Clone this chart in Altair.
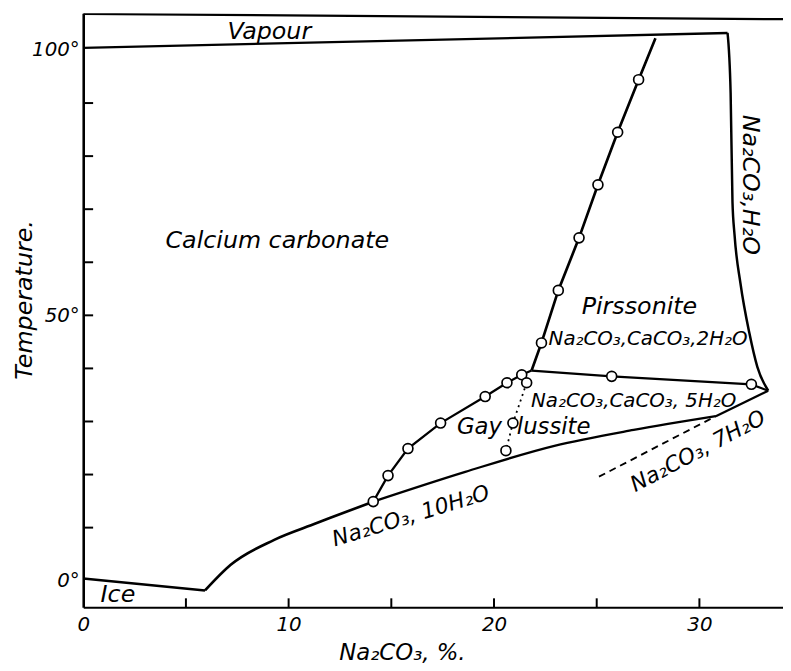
import altair as alt
import pandas as pd

# ---- boundary curves (x: Na2CO3 %, y: temperature in degrees C) ----
vapour_top_x = [0.0, 34.07]
vapour_top_y = [106.8, 105.8]
vapour_x = [0.0, 31.37]
vapour_y = [100.4, 103.2]
h2o_x = [31.37, 31.52, 31.61, 31.71, 32.0, 32.43, 32.82, 33.35]
h2o_y = [103.2, 91.9, 71.4, 65.2, 56.0, 46.7, 40.3, 35.8]
pirss_x = [27.86, 27.04, 26.02, 25.06, 24.14, 23.13, 22.31, 21.83]
pirss_y = [102.2, 94.4, 84.5, 74.6, 64.6, 54.7, 44.8, 39.6]
pg_x = [21.83, 25.73, 32.53, 33.35]
pg_y = [39.6, 38.5, 37.0, 35.8]
lower_x = [14.12, 18.60, 22.94, 26.80, 30.80]
lower_y = [14.9, 20.5, 25.4, 28.4, 31.0]
tip_x = [30.80, 33.35]
tip_y = [31.0, 35.8]
ice_x = [0.0, 5.93]
ice_y = [0.4, -1.83]
deca_x = [5.93, 7.18, 9.30, 11.37, 12.0, 14.12]
deca_y = [-1.83, 3.0, 7.7, 10.85, 11.8, 14.9]
gay_x = [14.12, 14.84, 15.81, 17.40, 19.57, 20.63, 21.35, 21.83]
gay_y = [14.9, 19.8, 24.9, 29.7, 34.7, 37.3, 38.8, 39.6]
dot_x = [21.59, 20.92, 20.58]
dot_y = [37.3, 29.7, 24.5]
dash_x = [25.11, 30.80]
dash_y = [19.6, 31.0]

# ---- experimental points (open circles) ----
circ_x = [27.04, 26.02, 25.06, 24.14, 23.13, 22.31,
          25.73, 32.53,
          14.12, 14.84, 15.81, 17.40, 19.57, 20.63, 21.35,
          21.59, 20.92, 20.58]
circ_y = [94.4, 84.5, 74.6, 64.6, 54.7, 44.8,
          38.5, 37.0,
          14.9, 19.8, 24.9, 29.7, 34.7, 37.3, 38.8,
          37.3, 29.7, 24.5]

# ---- axis ticks / labels ----
x_label_values = [0, 10, 20, 30]
x_tick_values = [5, 10, 15, 20, 25, 30]
y_label_values = [0, 50, 100]
y_tick_values = [10, 20, 30, 40, 50, 60, 70, 80, 90]

# ---- region labels ----
word_text = ["Vapour", "Calcium carbonate", "Pirssonite", "Ice"]
word_x = [9.06, 9.45, 27.08, 1.69]
word_y = [103.4, 64.0, 51.5, -2.75]

FONT = "DejaVu Sans"

xs = alt.Scale(domain=[0, 34.07], nice=False, zero=False)
ys = alt.Scale(domain=[-5, 106.9], nice=False, zero=False)

x_axis = alt.Axis(values=x_label_values, ticks=False, grid=False, domain=True,
                  domainColor="black", domainWidth=2.2, labelFont=FONT,
                  labelFontStyle="italic", labelFontSize=20, labelColor="black",
                  labelPadding=8, labelFlush=False,
                  title="Na₂CO₃, %.", titleFont=FONT, titleFontStyle="italic",
                  titleFontWeight="normal", titleFontSize=23, titleColor="black",
                  titleX=322, titleY=46, titleBaseline="middle", titleAlign="center")
y_axis = alt.Axis(values=y_label_values, ticks=False, grid=False, domain=True,
                  domainColor="black", domainWidth=2.6, labelFont=FONT,
                  labelFontStyle="italic", labelFontSize=20, labelColor="black",
                  labelPadding=4, labelFlush=False, labelExpr="datum.label + '°'",
                  title="Temperature.", titleFont=FONT, titleFontStyle="italic",
                  titleFontWeight="normal", titleFontSize=24, titleColor="black",
                  titleAngle=270, titleX=-59, titleY=289, titleBaseline="middle",
                  titleAlign="center")


def enc(chart):
    return chart.encode(
        x=alt.X("x:Q", scale=xs, axis=x_axis),
        y=alt.Y("y:Q", scale=ys, axis=y_axis),
    )


def line(xv, yv, width=2.4, dash=None, interp="linear"):
    df = pd.DataFrame({"x": xv, "y": yv, "i": range(len(xv))})
    kw = dict(color="black", strokeWidth=width, interpolate=interp, clip=True)
    if dash is not None:
        kw["strokeDash"] = dash
    return enc(alt.Chart(df).mark_line(**kw)).encode(order="i:Q")


layers = [
    line(vapour_top_x, vapour_top_y, 2.3),
    line(vapour_x, vapour_y, 2.3),
    line(h2o_x, h2o_y, 2.5, interp="monotone"),
    line(pirss_x, pirss_y, 2.7),
    line(pg_x, pg_y, 2.3),
    line(lower_x, lower_y, 2.3, interp="monotone"),
    line(tip_x, tip_y, 2.3),
    line(ice_x, ice_y, 2.5),
    line(deca_x, deca_y, 2.7, interp="monotone"),
    line(gay_x, gay_y, 2.3),
    line(dot_x, dot_y, 1.8, dash=[2, 4]),
    line(dash_x, dash_y, 1.9, dash=[7, 5]),
]

# tick marks (inward)
xt = pd.DataFrame({"v": x_tick_values})
yt = pd.DataFrame({"v": y_tick_values})
layers.append(alt.Chart(xt).mark_rule(color="black", strokeWidth=2).encode(
    x=alt.X("v:Q", scale=xs, axis=x_axis), y=alt.value(600), y2=alt.value(591)))
layers.append(alt.Chart(yt).mark_rule(color="black", strokeWidth=2).encode(
    y=alt.Y("v:Q", scale=ys, axis=y_axis), x=alt.value(0), x2=alt.value(10)))

# open circles
cdf = pd.DataFrame({"x": circ_x, "y": circ_y})
layers.append(enc(alt.Chart(cdf).mark_point(shape="circle", filled=True, fill="white",
                                            stroke="black", strokeWidth=1.7, size=100,
                                            opacity=1)))

# word labels
ldf = pd.DataFrame({"x": word_x, "y": word_y, "t": word_text})
layers.append(enc(alt.Chart(ldf).mark_text(font=FONT, fontStyle="italic", fontSize=24,
                                           color="black", align="center",
                                           baseline="middle")).encode(text="t:N"))


def label(t, x, y, size=20, angle=0, align="center"):
    df = pd.DataFrame({"x": [x], "y": [y], "t": [t]})
    return enc(alt.Chart(df).mark_text(font=FONT, fontStyle="italic", fontSize=size,
                                       color="black", align=align, baseline="middle",
                                       angle=angle)).encode(text="t:N")


layers.append(label("Na₂CO₃,CaCO₃,2H₂O", 27.5, 45.6, size=20))
layers.append(label("Na₂CO₃,CaCO₃, 5H₂O", 26.8, 33.8, size=20))
layers.append(label("Gay", 20.39, 28.9, size=23, align="right"))
layers.append(label("lussite", 21.11, 28.9, size=23, align="left"))
layers.append(label("Na₂CO₃, 10H₂O", 15.95, 12.2, size=22, angle=343))
layers.append(label("Na₂CO₃, 7H₂O", 29.93, 24.4, size=22, angle=332))
layers.append(label("Na₂CO₃,H₂O", 32.48, 74.6, size=24, angle=90))

chart = alt.layer(*layers).properties(
    width=707, height=600,
    padding={"left": 76, "top": 2, "right": 0, "bottom": 60},
    autosize=alt.AutoSizeParams(type="none"),
).configure_view(stroke=None)

chart.save("out.html", embed_options={"renderer": "svg", "actions": False})
